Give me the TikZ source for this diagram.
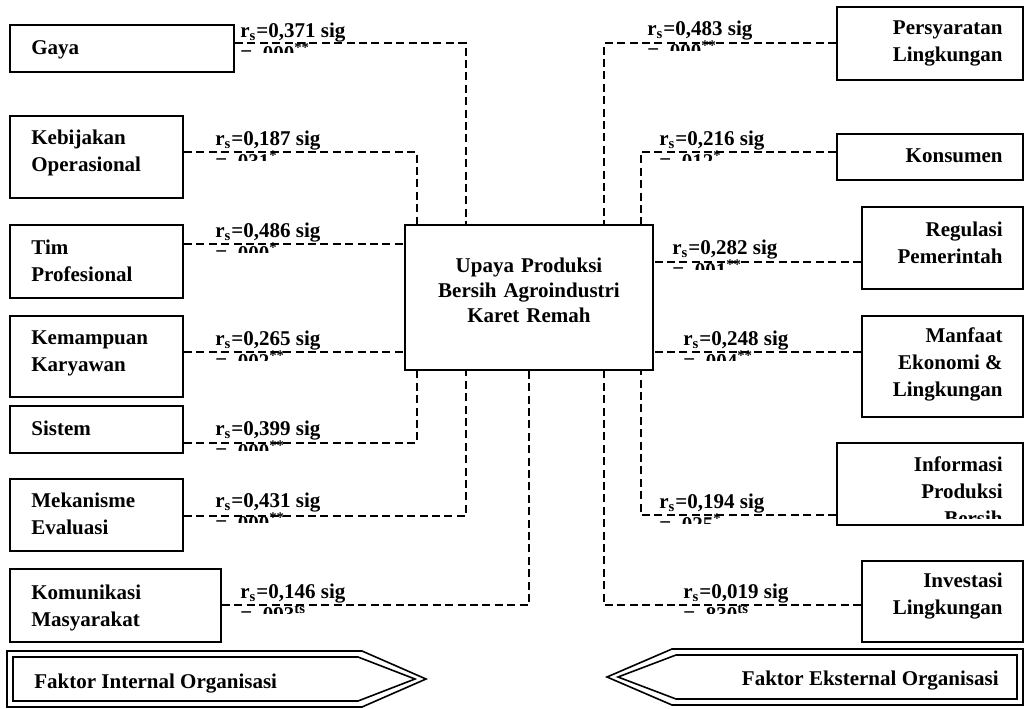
\documentclass[tikz,border=0pt]{standalone}
\usepackage{fontspec}
\setmainfont{Liberation Serif}
\usetikzlibrary{calc, fit}
\tikzset{
  factor/.style={draw, line width=1pt, inner sep=0pt},
  boxtext/.style={font=\bfseries\fontsize{10.5}{13.5}\selectfont, inner sep=0pt},
  lname/.style={boxtext, align=left, anchor=base west},
  rname/.style={boxtext, align=right, anchor=base east},
  corr/.style={font=\bfseries\fontsize{10.5}{11.5}\selectfont, inner sep=0pt, align=left, anchor=base west},
  dashlink/.style={line width=0.9pt, dash pattern=on 4pt off 2.2pt},
  arrowbox/.style={line width=0.8pt, line join=miter}
}
\newcommand\corrtext[5]{%
  \begin{scope}
    \clip ($(#2)+(-4,-22)$) rectangle ($(#2)+(140,15.5)$);
    \node[corr] (#1) at ($(#2)+(0,23)$) {r\textsubscript{s}=#3 sig\\= ,#4\textsuperscript{#5}};
  \end{scope}}

\begin{document}
\begin{tikzpicture}[x=0.5pt,y=-0.5pt]
    \useasboundingbox (0,0) rectangle (1024,708);
    % central box
    \node[factor, fit={(405,225) (653,370)}, boxtext, align=center, font=\bfseries\fontsize{10.5}{12.5}\selectfont] (upaya) {Upaya Produksi\\Bersih Agroindustri\\Karet Remah};
    % internal factors
    \node[factor, fit={(10,25) (234,72)}] (gaya) {};
    \node[factor, fit={(10,116) (183,198)}] (kebijakan) {};
    \node[factor, fit={(10,225) (183,298)}] (tim) {};
    \node[factor, fit={(10,316) (183,397)}] (kemampuan) {};
    \node[factor, fit={(10,406) (183,453)}] (sistem) {};
    \node[factor, fit={(10,479) (183,551)}] (mekanisme) {};
    \node[factor, fit={(10,569) (221,642)}] (komunikasi) {};
    \node[lname] (gayaT) at ($(gaya.north west)+(22,30)$) {Gaya};
    \node[lname] (kebijakanT) at ($(kebijakan.north west)+(22,56)$) {Kebijakan\\Operasional};
    \node[lname] (timT) at ($(tim.north west)+(22,57)$) {Tim\\Profesional};
    \node[lname] (kemampuanT) at ($(kemampuan.north west)+(22,56)$) {Kemampuan\\Karyawan};
    \node[lname] (sistemT) at ($(sistem.north west)+(22,30)$) {Sistem};
    \node[lname] (mekanismeT) at ($(mekanisme.north west)+(22,56)$) {Mekanisme\\Evaluasi};
    \node[lname] (komunikasiT) at ($(komunikasi.north west)+(22,58)$) {Komunikasi\\Masyarakat};
    % external factors
    \node[factor, fit={(837,7) (1023,80)}] (persyaratan) {};
    \node[factor, fit={(837,134) (1023,180)}] (konsumen) {};
    \node[factor, fit={(862,207) (1023,289)}] (regulasi) {};
    \node[factor, fit={(862,316) (1023,417)}] (manfaat) {};
    \node[factor, fit={(837,443) (1023,525)}] (informasi) {};
    \node[factor, fit={(862,561) (1023,642)}] (investasi) {};
    \node[rname] (persyaratanT) at ($(persyaratan.north east)+(-21,55)$) {Persyaratan\\Lingkungan};
    \node[rname] (konsumenT) at ($(konsumen.north east)+(-21,29)$) {Konsumen};
    \node[rname] (regulasiT) at ($(regulasi.north east)+(-21,57)$) {Regulasi\\Pemerintah};
    \node[rname] (manfaatT) at ($(manfaat.north east)+(-21,81)$) {Manfaat\\Ekonomi \&\\Lingkungan};
    \begin{scope}
      \clip (informasi.north west) rectangle ($(informasi.south east)+(0,-8)$);
      \node[rname] (informasiT) at ($(informasi.north east)+(-21,83)$) {Informasi\\Produksi\\Bersih};
    \end{scope}
    \node[rname] (investasiT) at ($(investasi.north east)+(-21,54)$) {Investasi\\Lingkungan};
    % correlation values
    \corrtext{cGaya}{240,37}{0,371}{000}{**}
    \corrtext{cKebijakan}{215,145}{0,187}{031}{*}
    \corrtext{cTim}{215,237}{0,486}{000}{*}
    \corrtext{cKemampuan}{215,345}{0,265}{002}{**}
    \corrtext{cSistem}{215,435}{0,399}{000}{**}
    \corrtext{cMekanisme}{215,507}{0,431}{000}{**}
    \corrtext{cKomunikasi}{240,598}{0,146}{093}{ts}
    \corrtext{cPersyaratan}{647,35}{0,483}{000}{**}
    \corrtext{cKonsumen}{659,145}{0,216}{012}{*}
    \corrtext{cRegulasi}{672,254}{0,282}{001}{**}
    \corrtext{cManfaat}{683,345}{0,248}{004}{**}
    \corrtext{cInformasi}{659,508}{0,194}{025}{*}
    \corrtext{cInvestasi}{683,598}{0,019}{830}{ts}
    % links
    \draw[dashlink] ($(gaya.east)+(0,-5.5)$) -| ($(upaya.north west)+(62,0)$);
    \draw[dashlink] ($(kebijakan.east)+(0,-5)$) -| ($(upaya.north west)+(13,0)$);
    \draw[dashlink] ($(tim.east)+(0,-17.5)$) coordinate (t1) -- (t1 -| upaya.west);
    \draw[dashlink] ($(kemampuan.east)+(0,-4.5)$) coordinate (k1) -- (k1 -| upaya.west);
    \draw[dashlink] ($(sistem.east)+(0,13.5)$) -| ($(upaya.south west)+(13,0)$);
    \draw[dashlink] ($(mekanisme.east)+(0,1)$) -| ($(upaya.south west)+(62,0)$);
    \draw[dashlink] ($(komunikasi.east)+(0,-0.5)$) -| (upaya.south);
    \draw[dashlink] ($(persyaratan.west)+(0,-0.5)$) -| ($(upaya.north east)+(-50,0)$);
    \draw[dashlink] ($(konsumen.west)+(0,-5)$) -| ($(upaya.north east)+(-13,0)$);
    \draw[dashlink] ($(regulasi.west)+(0,14)$) coordinate (r1) -- (r1 -| upaya.east);
    \draw[dashlink] ($(manfaat.west)+(0,-14.5)$) coordinate (m1) -- (m1 -| upaya.east);
    \draw[dashlink] ($(informasi.west)+(0,31)$) -| ($(upaya.south east)+(-13,0)$);
    \draw[dashlink] ($(investasi.west)+(0,3.5)$) -| ($(upaya.south east)+(-50,0)$);
    % factor groups
    \draw[arrowbox] (7,651) -- (362,651) -- (426,679) -- (362,707) -- (7,707) -- cycle;
    \draw[arrowbox] (13,657) -- (358,657) -- (415,679) -- (358,701) -- (13,701) -- cycle;
    \node[boxtext, anchor=base west] (internal) at (34,688) {Faktor Internal Organisasi};
    \draw[arrowbox] (1023,649) -- (672,649) -- (607,677) -- (672,705) -- (1023,705) -- cycle;
    \draw[arrowbox] (1017,655) -- (676,655) -- (618,677) -- (676,699) -- (1017,699) -- cycle;
    \node[boxtext, anchor=base east] (external) at (999,685) {Faktor Eksternal Organisasi};
\end{tikzpicture}
\end{document}
